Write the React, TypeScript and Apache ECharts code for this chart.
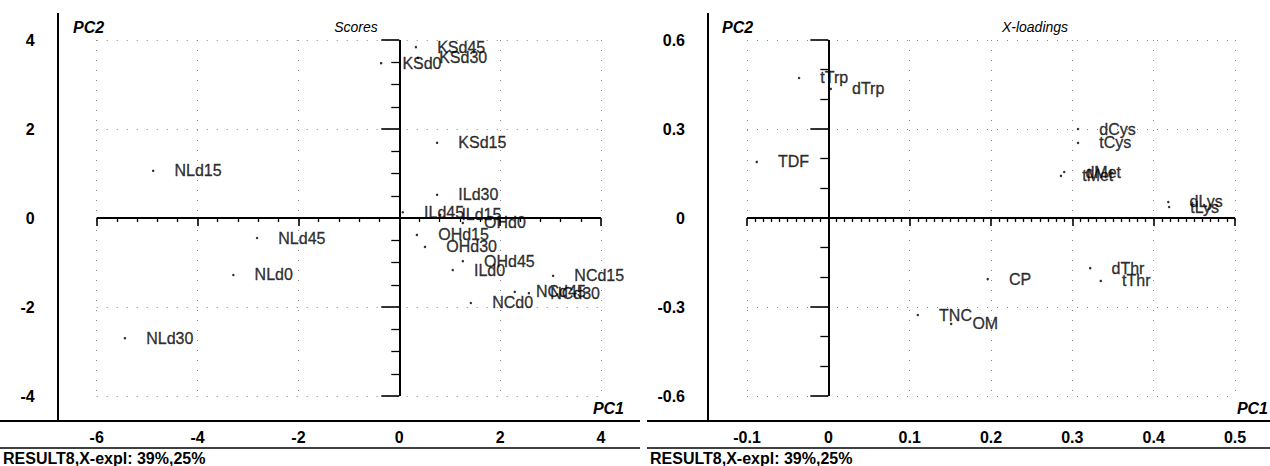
import React, { useEffect, useRef } from "react";
import * as echarts from "echarts";

const scoreNames = ["KSd0", "KSd15", "KSd30", "KSd45", "ILd0", "ILd15", "ILd30", "ILd45", "OHd0", "OHd15", "OHd30", "OHd45", "NCd0", "NCd15", "NCd30", "NCd45", "NLd0", "NLd15", "NLd30", "NLd45"];
const scorePC1 = [-0.36, 0.75, 0.37, 0.33, 1.06, 0.81, 0.75, 0.07, 1.26, 0.35, 0.51, 1.26, 1.42, 3.05, 2.57, 2.29, -3.29, -4.88, -5.44, -2.82];
const scorePC2 = [3.48, 1.69, 3.6, 3.84, -1.17, 0.07, 0.52, 0.13, -0.11, -0.38, -0.65, -0.97, -1.91, -1.3, -1.69, -1.66, -1.28, 1.06, -2.7, -0.45];

const loadingNames = ["tTrp", "dTrp", "TDF", "dCys", "tCys", "dMet", "tMet", "dLys", "tLys", "dThr", "tThr", "CP", "TNC", "OM"];
const loadingPC1 = [-0.036, 0.003, -0.088, 0.307, 0.307, 0.29, 0.286, 0.418, 0.419, 0.322, 0.335, 0.196, 0.11, 0.151];
const loadingPC2 = [0.472, 0.435, 0.189, 0.3, 0.253, 0.155, 0.142, 0.054, 0.037, -0.169, -0.212, -0.206, -0.327, -0.357];

const scoreXTicks = { min: -6, max: 4, interval: 2, minor: 5 };
const scoreYTicks = { min: -4, max: 4, interval: 2, minor: 4 };
const loadXTicks = { min: -0.1, max: 0.5, interval: 0.1, minor: 10 };
const loadYTicks = { min: -0.6, max: 0.6, interval: 0.3, minor: 3 };

const footer = "RESULT8,X-expl: 39%,25%";

const FONT = "'Liberation Sans', Arial, Helvetica, sans-serif";

function xAxisCfg(gridIndex: number, t: any) {
  return {
    gridIndex,
    type: "value",
    position: "bottom",
    min: t.min,
    max: t.max,
    interval: t.interval,
    offset: 25,
    axisLine: { show: false },
    axisTick: { show: true, length: 8, lineStyle: { color: "#000", width: 1.6 } },
    minorTick: { show: true, splitNumber: t.minor, length: 4, lineStyle: { color: "#000", width: 1.3 } },
    axisLabel: { color: "#000", fontSize: 16, fontWeight: "bold", fontFamily: FONT, margin: 8 },
    splitLine: { show: true, lineStyle: { color: "#888", type: [1, 9], width: 1 } },
  };
}

function yAxisCfg(gridIndex: number, t: any) {
  return {
    gridIndex,
    type: "value",
    position: "left",
    min: t.min,
    max: t.max,
    interval: t.interval,
    offset: 39,
    axisLine: { show: false },
    axisTick: { show: true, length: 18, lineStyle: { color: "#000", width: 1.6 } },
    minorTick: { show: true, splitNumber: t.minor, length: 8, lineStyle: { color: "#000", width: 1.3 } },
    axisLabel: { color: "#000", fontSize: 16, fontWeight: "bold", fontFamily: FONT, margin: 23 },
    splitLine: { show: true, lineStyle: { color: "#888", type: [1, 9], width: 1 } },
  };
}

function scatterSeries(idx: number, names: string[], xs: number[], ys: number[]) {
  return {
    type: "scatter",
    xAxisIndex: idx,
    yAxisIndex: idx,
    symbol: "circle",
    symbolSize: 2.5,
    itemStyle: { color: "#000" },
    data: names.map((n, i) => ({ name: n, value: [xs[i], ys[i]] })),
    label: {
      show: true,
      position: "right",
      distance: 20,
      formatter: (p: any) => p.name,
      color: "#000",
      fontSize: 16,
      fontFamily: FONT,
      textBorderColor: "#000",
      textBorderWidth: 0.35,
    },
    markLine: {
      silent: true,
      symbol: ["none", "none"],
      label: { show: false },
      lineStyle: { color: "#000", width: 2, type: "solid" },
      data: [{ xAxis: 0 }, { yAxis: 0 }],
    },
  };
}

function line(x1: number, y1: number, x2: number, y2: number, w: number) {
  return { type: "line", shape: { x1, y1, x2, y2 }, style: { stroke: "#000", lineWidth: w }, silent: true };
}

function txt(x: number, y: number, text: string, opts: any) {
  return {
    type: "text",
    x,
    y,
    silent: true,
    style: { text, fill: "#000", fontFamily: FONT, verticalAlign: "middle", ...opts },
  };
}

export default function App() {
  const ref = useRef<HTMLDivElement>(null);
  useEffect(() => {
    const chart = echarts.init(ref.current!, null, { renderer: "svg" });
    chart.setOption({
      animation: false,
      backgroundColor: "#fff",
      grid: [
        { left: 96.7, top: 40, width: 504.3, height: 356 },
        { left: 747, top: 40, width: 488, height: 356 },
      ],
      xAxis: [xAxisCfg(0, scoreXTicks), xAxisCfg(1, loadXTicks)],
      yAxis: [yAxisCfg(0, scoreYTicks), yAxisCfg(1, loadYTicks)],
      series: [
        scatterSeries(0, scoreNames, scorePC1, scorePC2),
        scatterSeries(1, loadingNames, loadingPC1, loadingPC2),
      ],
      graphic: [
        // left panel frame
        line(58, 13, 58, 421, 2),
        line(0, 421, 640, 421, 2),
        line(0, 448, 640, 448, 1.5),
        // right panel frame
        line(708, 13, 708, 421, 2),
        line(647, 421, 1270, 421, 2),
        line(647, 448, 1270, 448, 1.5),
        txt(73, 27, "PC2", { fontSize: 16, fontStyle: "italic", fontWeight: "bold" }),
        txt(722, 27, "PC2", { fontSize: 16, fontStyle: "italic", fontWeight: "bold" }),
        txt(356, 27, "Scores", { fontSize: 14, fontStyle: "italic", align: "center" }),
        txt(1035, 27, "X-loadings", { fontSize: 14, fontStyle: "italic", align: "center" }),
        txt(624, 408, "PC1", { fontSize: 16, fontStyle: "italic", fontWeight: "bold", align: "right" }),
        txt(1268, 408, "PC1", { fontSize: 16, fontStyle: "italic", fontWeight: "bold", align: "right" }),
        txt(3, 458, footer, { fontSize: 16, fontWeight: "bold" }),
        txt(650, 458, footer, { fontSize: 16, fontWeight: "bold" }),
      ],
    });
    return () => chart.dispose();
  }, []);
  return (
    <div
      ref={ref}
      style={{ position: "fixed", left: 0, top: 0, width: 1270, height: 466, background: "#fff" }}
    />
  );
}
